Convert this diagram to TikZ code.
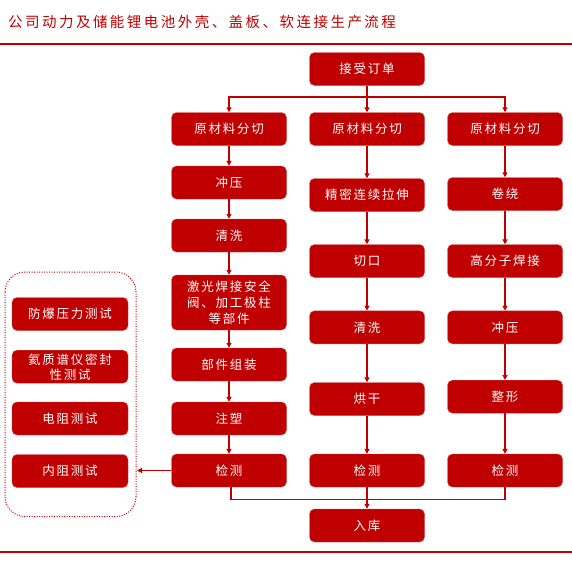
\documentclass[tikz,border=0pt]{standalone}
\usepackage{fontspec}
\newfontfamily\cjk[LetterSpace=14]{Noto Sans CJK SC}
\newfontfamily\cjkt[LetterSpace=17]{Noto Sans CJK SC}
\usetikzlibrary{arrows.meta}
\definecolor{bred}{HTML}{C00000}
\begin{document}
\begin{tikzpicture}[x=1pt,y=-1pt,
  box/.style={draw=bred!70!white,line width=0.4pt,fill=bred,rounded corners=5pt,minimum width=115pt,minimum height=33pt,inner sep=1pt,text=white,font=\cjk\fontsize{12.5pt}{16pt}\selectfont,align=center},
  tbox/.style={box,minimum width=116pt},
  tallbox/.style={box,minimum height=55pt},
  link/.style={draw=bred,line width=1.2pt},
  arr/.style={link,-{Triangle[width=5pt,length=5pt]}}]
\useasboundingbox (0,0) rectangle (572,570);
% title and rules
\node[anchor=west,text=bred,font=\cjkt\fontsize{14.5pt}{16pt}\selectfont,inner sep=0pt] (title) at (8,22) {公司动力及储能锂电池外壳、盖板、软连接生产流程};
\draw[bred,line width=2pt] (0,44) -- (572,44);
\draw[bred,line width=2pt] (0,552) -- (572,552);
% top
\node[box] (order) at (367,69) {接受订单};
% row 2
\node[box] (l1) at (229,129) {原材料分切};
\node[box] (m1) at (367,129) {原材料分切};
\node[box] (r1) at (505,129) {原材料分切};
% left column
\node[box] (l2) at (229,182.5) {冲压};
\node[box] (l3) at (229,235.5) {清洗};
\node[tallbox] (l4) at (229,302.5) {激光焊接安全\\阀、加工极柱\\等部件};
\node[box] (l5) at (229,364.5) {部件组装};
\node[box] (l6) at (229,418.5) {注塑};
\node[box] (l7) at (229,470.5) {检测};
% middle column
\node[box] (m2) at (367,195) {精密连续拉伸};
\node[box] (m3) at (367,261) {切口};
\node[box] (m4) at (367,327.3) {清洗};
\node[box] (m5) at (367,399) {烘干};
\node[box] (m6) at (367,470.5) {检测};
% right column
\node[box] (r2) at (505,194) {卷绕};
\node[box] (r3) at (505,261) {高分子焊接};
\node[box] (r4) at (505,327.3) {冲压};
\node[box] (r5) at (505,396.7) {整形};
\node[box] (r6) at (505,470.5) {检测};
% store
\node[box] (store) at (367,525.5) {入库};
% test group
\draw[bred,dash pattern=on 1pt off 1.5pt,line width=1pt,rounded corners=20pt] (5,272) rectangle (136,516.5);
\coordinate (grp) at (137,470.5);
\node[tbox] (t1) at (70,314) {防爆压力测试};
\node[tbox,font=\cjk\fontsize{12.5pt}{15pt}\selectfont] (t2) at (70,366.7) {氦质谱仪密封\\性测试};
\node[tbox] (t3) at (70,418.5) {电阻测试};
\node[tbox] (t4) at (70,471) {内阻测试};
% connectors
\coordinate (split) at (367,97);
\draw[link] (order.south) -- (split);
\draw[arr] (split) -| (l1.north);
\draw[arr] (split) -| (r1.north);
\draw[arr] (split) -- (m1.north);
\draw[arr] (l1) -- (l2);
\draw[arr] (l2) -- (l3);
\draw[arr] (l3) -- (l4);
\draw[arr] (l4) -- (l5);
\draw[arr] (l5) -- (l6);
\draw[arr] (l6) -- (l7);
\draw[arr] (m1) -- (m2);
\draw[arr] (m2) -- (m3);
\draw[arr] (m3) -- (m4);
\draw[arr] (m4) -- (m5);
\draw[arr] (m5) -- (m6);
\draw[arr] (r1) -- (r2);
\draw[arr] (r2) -- (r3);
\draw[arr] (r3) -- (r4);
\draw[arr] (r4) -- (r5);
\draw[arr] (r5) -- (r6);
\draw[arr] (l7.west) -- (grp);
\coordinate (join) at (367,499.5);
\draw[link] (l7.south) ++(2,0) |- (join);
\draw[link] (r6.south) |- (join);
\draw[arr] (m6.south) -- (store.north);
\end{tikzpicture}
\end{document}
